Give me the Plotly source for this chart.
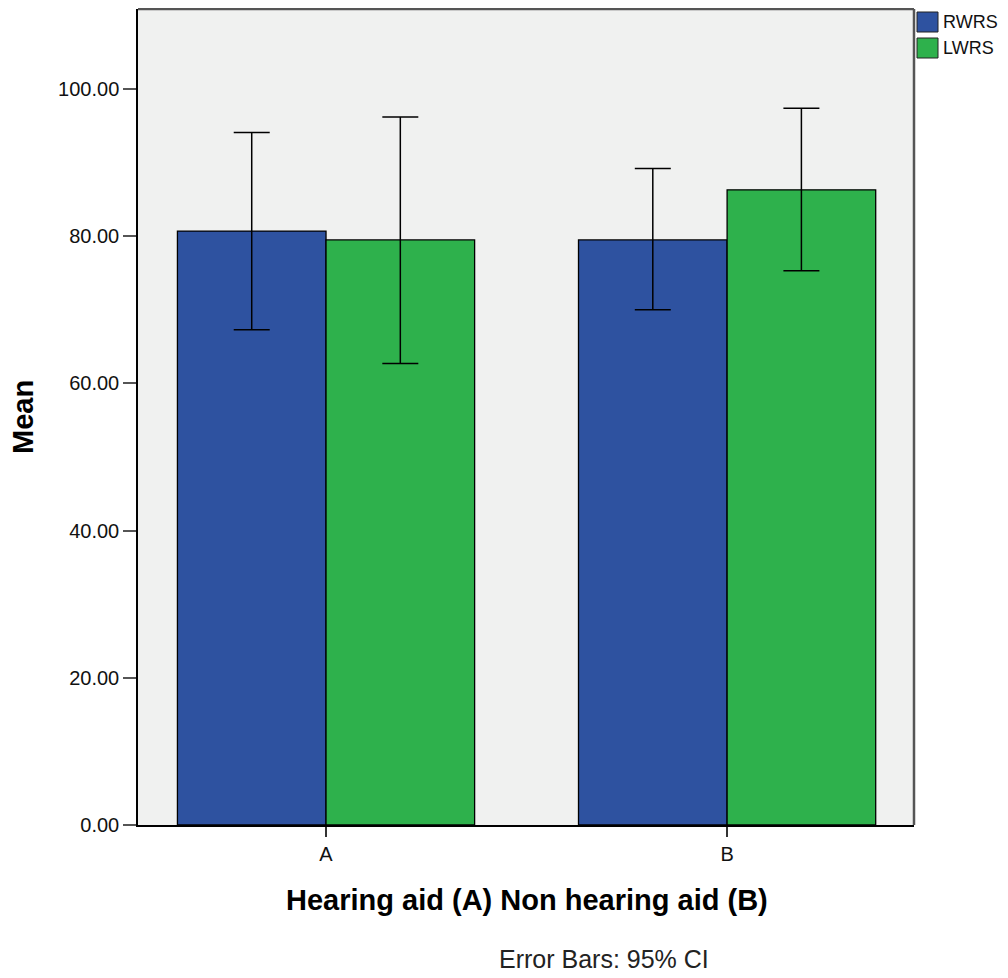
import plotly.graph_objects as go

categories = ["A", "B"]
rwrs_mean = [80.7, 79.5]
rwrs_hi = [94.1, 89.2]
rwrs_lo = [67.3, 70.0]
lwrs_mean = [79.5, 86.3]
lwrs_hi = [96.2, 97.4]
lwrs_lo = [62.7, 75.3]
series_names = ["RWRS", "LWRS"]
series_colors = ["#2e52a0", "#2eb14c"]
y_ticks = [0, 20, 40, 60, 80, 100]
y_tick_labels = ["0.00", "20.00", "40.00", "60.00", "80.00", "100.00"]

def err(mean, hi, lo):
    return dict(type="data", symmetric=False,
                array=[h - m for h, m in zip(hi, mean)],
                arrayminus=[m - l for m, l in zip(mean, lo)],
                color="black", thickness=1.5, width=18)

fig = go.Figure()
for name, color, mean, hi, lo in [
    (series_names[0], series_colors[0], rwrs_mean, rwrs_hi, rwrs_lo),
    (series_names[1], series_colors[1], lwrs_mean, lwrs_hi, lwrs_lo),
]:
    fig.add_trace(go.Bar(x=categories, y=mean, name=name, showlegend=False,
                         marker=dict(color=color, line=dict(color="black", width=1.3)),
                         error_y=err(mean, hi, lo)))

font = "Liberation Sans, Arial, sans-serif"
W, H = 1000, 970
L, T, PW, PH = 130, 1, 776, 816

def px(x):
    return (x - L) / PW

def py(y):
    return 1 - (y - T) / PH

shapes = [
    dict(type="line", xref="paper", yref="paper", x0=0, x1=1, y0=1, y1=1,
         line=dict(color="#555", width=2.5)),
    dict(type="line", xref="paper", yref="paper", x0=1, x1=1, y0=0, y1=1,
         line=dict(color="#555", width=2.5)),
]
annotations = [
    dict(text="Error Bars: 95% CI", xref="paper", yref="paper",
         x=px(596), y=py(951), xanchor="center", yanchor="middle", showarrow=False,
         font=dict(size=25, family=font, color="#222")),
    dict(text="<b>Mean</b>", xref="paper", yref="paper", textangle=-90,
         x=px(15), y=py(409), xanchor="center", yanchor="middle", showarrow=False,
         font=dict(size=29, family=font, color="black")),
    dict(text="<b>Hearing aid (A) Non hearing aid (B)</b>", xref="paper", yref="paper",
         x=px(519), y=py(892), xanchor="center", yanchor="middle", showarrow=False,
         font=dict(size=29, family=font, color="black")),
]
# legend drawn as swatches + labels
for i, (name, color) in enumerate(zip(series_names, series_colors)):
    top = 4 + 26 * i
    shapes.append(dict(type="rect", xref="paper", yref="paper",
                       x0=px(909), x1=px(930), y0=py(top), y1=py(top + 20),
                       fillcolor=color, line=dict(color="#222", width=1)))
    annotations.append(dict(text=name, xref="paper", yref="paper",
                            x=px(933), y=py(top + 10), xanchor="left", yanchor="middle",
                            showarrow=False, font=dict(size=18, family=font, color="#111")))

fig.update_layout(
    width=W, height=H,
    margin=dict(l=L, r=W - L - PW, t=T, b=H - T - PH, autoexpand=False),
    paper_bgcolor="white", plot_bgcolor="#f0f1f0",
    barmode="group", bargap=0.259, bargroupgap=0,
    font=dict(family=font, size=20, color="black"),
    showlegend=False,
    xaxis=dict(type="category", range=[-0.4688, 1.466],
               showline=True, linecolor="black", linewidth=1.5, mirror=False,
               ticks="outside", ticklen=10, tickwidth=2, tickcolor="#333",
               showgrid=False, zeroline=False, tickfont=dict(size=20, color="#111")),
    yaxis=dict(range=[0, 110.87], tickvals=y_ticks, ticktext=y_tick_labels,
               showline=True, linecolor="black", linewidth=1.5, mirror=False,
               ticks="outside", ticklen=13, tickwidth=2, tickcolor="#555",
               showgrid=False, zeroline=False, tickfont=dict(size=20, color="#111")),
    shapes=shapes,
    annotations=annotations,
)

fig.write_html("out.html")
